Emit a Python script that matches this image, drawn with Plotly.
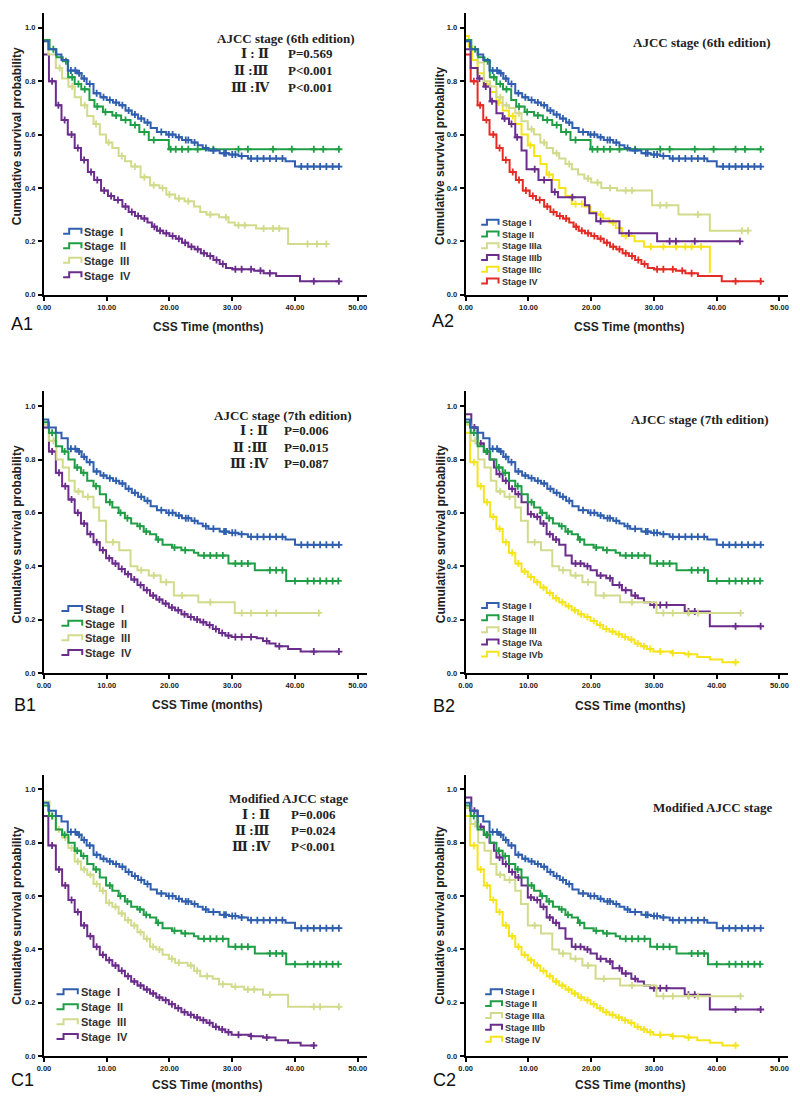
import plotly.graph_objects as go

# ---------------- DATA ----------------
# Each curve: step times (months), survival after each step, end of follow-up, censor times
STAGE_I_T = [0, 0.7, 1.9, 2.8, 3.8, 5.3, 6.0, 6.8, 7.9, 9.0, 10.0, 11.0, 12.0, 13.0, 14.0, 15.0, 16.0,
             17.0, 18.0, 19.5, 21.0, 22.0, 23.5, 24.5, 25.3, 26.2, 28.0, 29.5, 31.0, 32.5, 38.5, 40.0]
STAGE_I_S = [0.95, 0.92, 0.90, 0.88, 0.84, 0.83, 0.81, 0.79, 0.755, 0.74, 0.73, 0.72, 0.71, 0.69, 0.675,
             0.66, 0.645, 0.625, 0.61, 0.60, 0.59, 0.58, 0.57, 0.56, 0.55, 0.54, 0.53, 0.525, 0.52, 0.51,
             0.50, 0.48]
STAGE_I_END = 47.2
STAGE_I_CENS = [4.3, 5.0, 5.6, 6.4, 7.3, 8.4, 9.5, 10.5, 11.5, 12.5, 13.5, 14.5, 15.5, 16.5, 18.7, 19.9,
                20.5, 21.5, 22.6, 23.0, 24.0, 25.8, 27.0, 28.7, 29.0, 30.0, 30.5, 31.5, 33.0, 34.0, 35.0,
                36.0, 37.0, 38.0, 41.0, 42.0, 43.0, 44.0, 45.0, 46.0, 47.0]

II6_T = [0, 0.9, 2.0, 3.0, 3.85, 4.9, 5.95, 7.25, 8.05, 9.4, 10.9, 12.3, 13.8, 15.2, 16.7, 19.9]
II6_S = [0.955, 0.92, 0.89, 0.875, 0.815, 0.79, 0.77, 0.73, 0.705, 0.685, 0.672, 0.655, 0.636, 0.61,
         0.58, 0.545]
II6_END = 47.2
II6_CENS = [1.5, 3.5, 4.5, 5.5, 6.5, 8.5, 9.8, 11.5, 13.0, 14.5, 16.0, 17.5, 20.2, 21.0, 22.0, 23.0,
            24.5, 27.0, 31.0, 32.5, 36.5, 39.5, 43.0, 44.5, 47.0]

III6_T = [0, 0.7, 1.9, 2.9, 3.9, 4.9, 5.9, 6.9, 7.9, 8.9, 9.9, 10.9, 11.9, 12.9, 13.9, 15.4, 16.9,
          18.4, 19.5, 20.9, 22.4, 23.9, 24.9, 25.9, 27.9, 29.4, 30.4, 33.8, 38.9]
III6_S = [0.95, 0.90, 0.85, 0.81, 0.78, 0.74, 0.71, 0.67, 0.64, 0.60, 0.57, 0.55, 0.52, 0.50, 0.48,
          0.44, 0.41, 0.40, 0.375, 0.36, 0.35, 0.33, 0.31, 0.30, 0.29, 0.27, 0.26, 0.248, 0.19]
III6_END = 45.0
III6_CENS = [2.5, 4.5, 6.5, 8.3, 10.3, 12.4, 14.5, 16.0, 17.5, 18.9, 20.0, 21.5, 23.0, 26.5, 29.0,
             31.0, 32.0, 35.0, 36.5, 37.5, 42.0, 43.5, 45.0]

IV6_T = [0, 0.8, 1.9, 2.8, 3.8, 4.9, 5.9, 7.0, 8.0, 9.1, 10.2, 11.2, 12.5, 13.5, 14.5, 15.5, 16.5,
         17.2, 18.0, 19.0, 20.0, 21.0, 22.0, 23.0, 24.0, 25.0, 26.0, 27.0, 28.0, 29.0, 30.0, 33.5,
         35.0, 37.0, 40.8]
IV6_S = [0.90, 0.80, 0.71, 0.655, 0.60, 0.55, 0.505, 0.46, 0.43, 0.39, 0.37, 0.355, 0.33, 0.31, 0.295,
         0.285, 0.27, 0.255, 0.24, 0.23, 0.22, 0.21, 0.195, 0.18, 0.17, 0.155, 0.145, 0.13, 0.115, 0.10,
         0.095, 0.09, 0.08, 0.07, 0.05]
IV6_END = 47.2
IV6_CENS = [1.3, 2.3, 3.3, 4.4, 5.4, 6.4, 7.5, 8.5, 9.6, 10.7, 11.8, 13.0, 14.0, 15.0, 16.0, 17.6,
            18.5, 19.5, 20.5, 21.5, 22.5, 23.5, 24.5, 25.5, 26.5, 27.5, 28.5, 30.5, 31.5, 33.0, 34.5,
            36.0, 43.0, 47.0]

IIIA6_T = [0, 0.8, 1.9, 2.9, 3.9, 4.9, 5.9, 6.9, 7.9, 8.9, 9.9, 10.9, 11.9, 12.9, 13.9, 14.9, 15.9,
           16.9, 17.9, 18.9, 20.0, 21.6, 24.1, 29.7, 33.9, 38.9]
IIIA6_S = [0.95, 0.92, 0.87, 0.80, 0.78, 0.74, 0.71, 0.70, 0.68, 0.65, 0.62, 0.60, 0.57, 0.55, 0.53,
           0.51, 0.49, 0.47, 0.45, 0.435, 0.42, 0.40, 0.39, 0.335, 0.30, 0.24]
IIIA6_END = 45.0
IIIA6_CENS = [5.5, 6.5, 8.5, 10.5, 12.5, 14.5, 16.5, 19.5, 21.0, 23.0, 25.5, 26.5, 31.0, 32.0, 37.0,
              44.0, 45.0]

IIIB6_T = [0, 0.8, 1.9, 2.9, 3.9, 4.9, 5.9, 6.9, 7.9, 8.9, 9.7, 11.6, 13.7, 14.7, 19.0, 19.7, 20.8,
           24.5, 30.5]
IIIB6_S = [0.92, 0.85, 0.81, 0.78, 0.725, 0.68, 0.66, 0.64, 0.59, 0.54, 0.47, 0.43, 0.385, 0.365,
           0.335, 0.305, 0.275, 0.23, 0.20]
IIIB6_END = 43.7
IIIB6_CENS = [2.2, 3.2, 4.2, 6.2, 7.3, 8.2, 11.0, 12.5, 14.2, 17.0, 21.5, 26.0, 32.5, 33.5, 36.5, 43.7]

IIIC6_T = [0, 0.5, 1.0, 1.9, 2.9, 3.9, 4.9, 5.9, 6.9, 7.9, 8.9, 9.9, 10.9, 11.9, 12.9, 13.9, 14.9,
           15.9, 16.9, 18.9, 19.9, 20.9, 21.9, 22.9, 23.9, 24.9, 26.9, 28.4, 38.9]
IIIC6_S = [0.97, 0.93, 0.88, 0.83, 0.79, 0.76, 0.72, 0.69, 0.67, 0.64, 0.60, 0.56, 0.52, 0.49, 0.45,
           0.43, 0.40, 0.37, 0.34, 0.33, 0.31, 0.30, 0.285, 0.27, 0.25, 0.22, 0.20, 0.18, 0.085]
IIIC6_END = 39.0
IIIC6_CENS = [3.3, 5.3, 7.5, 10.3, 13.3, 17.5, 18.5, 21.5, 23.5, 25.5, 29.5, 31.5, 33.5, 35.0, 36.0,
              37.5]

II7_T = [0, 0.8, 1.9, 2.9, 3.9, 4.9, 5.9, 6.9, 7.9, 8.9, 9.9, 10.9, 11.9, 12.9, 13.9, 14.9, 15.9,
         16.9, 17.9, 18.9, 20.4, 21.9, 23.9, 24.6, 29.4, 33.6, 38.6]
II7_S = [0.94, 0.90, 0.85, 0.83, 0.80, 0.77, 0.75, 0.72, 0.70, 0.67, 0.64, 0.62, 0.60, 0.58, 0.56,
         0.55, 0.53, 0.52, 0.50, 0.48, 0.47, 0.46, 0.45, 0.44, 0.41, 0.385, 0.345]
II7_END = 46.9
II7_CENS = [1.3, 3.3, 5.3, 6.3, 8.3, 10.5, 12.2, 13.3, 15.3, 16.3, 18.2, 20.8, 22.5, 25.5, 26.5, 27.5,
            28.5, 30.5, 31.5, 32.5, 36.0, 37.0, 38.0, 40.0, 42.0, 43.0, 44.0, 45.0, 46.0, 46.9]

III7_T = [0, 0.8, 2.0, 3.0, 4.0, 4.9, 6.2, 7.9, 8.8, 9.9, 12.0, 13.8, 14.9, 16.7, 18.6, 20.7, 24.6,
          30.4]
III7_S = [0.93, 0.87, 0.80, 0.77, 0.72, 0.68, 0.66, 0.62, 0.57, 0.49, 0.46, 0.40, 0.385, 0.365, 0.34,
          0.29, 0.265, 0.225]
III7_END = 43.8
III7_CENS = [1.5, 5.5, 7.0, 11.0, 15.5, 17.5, 19.5, 22.0, 26.5, 31.5, 33.0, 35.5, 37.0, 43.8]

IV7_T = [0, 0.8, 1.9, 2.9, 3.9, 4.9, 5.9, 6.9, 7.9, 8.9, 9.9, 10.9, 11.9, 12.9, 13.9, 14.9, 15.9,
         16.9, 17.9, 18.9, 19.9, 20.9, 21.9, 22.9, 23.9, 24.9, 25.9, 26.9, 27.9, 28.9, 29.9, 33.9,
         34.9, 35.9, 36.9, 38.9, 40.9]
IV7_S = [0.92, 0.83, 0.75, 0.70, 0.65, 0.60, 0.56, 0.52, 0.49, 0.46, 0.43, 0.41, 0.39, 0.37, 0.35,
         0.33, 0.31, 0.29, 0.275, 0.26, 0.245, 0.235, 0.22, 0.21, 0.20, 0.19, 0.18, 0.165, 0.15, 0.14,
         0.135, 0.13, 0.12, 0.11, 0.10, 0.09, 0.08]
IV7_END = 47.0
IV7_CENS = [1.3, 2.4, 3.4, 4.4, 5.4, 6.4, 7.4, 8.4, 9.4, 10.4, 11.4, 12.4, 13.4, 14.4, 15.4, 16.4,
            17.4, 18.4, 19.4, 20.4, 21.4, 22.4, 23.4, 24.4, 25.4, 26.4, 27.4, 28.4, 29.4, 30.5, 31.5,
            33.0, 35.5, 37.5, 43.0, 47.0]

IVA7_T = [0, 0.9, 1.9, 2.9, 3.8, 4.5, 4.9, 5.9, 6.9, 7.9, 8.9, 9.9, 10.9, 11.9, 12.9, 13.9, 14.9,
          15.9, 16.9, 18.9, 19.9, 20.9, 22.4, 23.4, 24.9, 26.4, 27.4, 28.4, 29.4, 34.9, 38.9]
IVA7_S = [0.97, 0.92, 0.86, 0.83, 0.80, 0.77, 0.745, 0.72, 0.69, 0.67, 0.64, 0.595, 0.585, 0.56, 0.52,
          0.50, 0.48, 0.44, 0.41, 0.40, 0.385, 0.365, 0.355, 0.33, 0.31, 0.29, 0.28, 0.265, 0.255,
          0.23, 0.175]
IVA7_END = 47.0
IVA7_CENS = [1.4, 2.4, 3.4, 5.4, 6.4, 7.4, 8.4, 10.4, 11.4, 12.4, 13.4, 14.4, 17.5, 18.3, 19.4, 21.5,
             23.0, 24.5, 25.5, 27.0, 30.0, 31.0, 32.0, 35.5, 36.5, 43.0, 47.0]

IVB7_T = [0, 0.7, 1.9, 2.9, 3.9, 4.9, 5.9, 6.9, 7.9, 8.9, 9.9, 10.9, 11.9, 12.9, 13.9, 14.9, 15.9,
          16.9, 17.9, 18.9, 19.9, 20.9, 21.9, 22.9, 23.9, 24.9, 25.9, 26.9, 27.9, 28.9, 29.9, 32.9,
          34.9, 36.9, 38.9, 40.9]
IVB7_S = [0.90, 0.79, 0.70, 0.64, 0.585, 0.54, 0.49, 0.45, 0.41, 0.38, 0.36, 0.34, 0.32, 0.30, 0.28,
          0.265, 0.25, 0.235, 0.22, 0.21, 0.195, 0.18, 0.165, 0.155, 0.145, 0.135, 0.125, 0.11, 0.10,
          0.09, 0.08, 0.075, 0.07, 0.06, 0.05, 0.04]
IVB7_END = 43.2
IVB7_CENS = [1.3, 2.4, 3.4, 4.4, 5.4, 6.4, 7.4, 8.4, 9.4, 10.4, 11.4, 12.4, 13.4, 14.4, 15.4, 16.4,
             17.4, 18.4, 19.4, 20.4, 21.4, 22.4, 23.4, 24.4, 25.4, 26.4, 27.4, 28.4, 29.4, 31.0, 33.0,
             35.5, 43.0]

IIIMOD_T = [0, 0.9, 1.9, 2.9, 3.9, 4.9, 5.9, 6.9, 7.9, 8.9, 9.9, 10.9, 11.9, 12.9, 13.9, 14.9, 15.9,
            16.9, 17.9, 18.9, 19.9, 20.9, 22.9, 23.9, 24.9, 26.9, 27.9, 29.9, 31.9, 34.9, 38.9]
IIIMOD_S = [0.955, 0.90, 0.85, 0.82, 0.78, 0.73, 0.70, 0.68, 0.645, 0.62, 0.575, 0.56, 0.535, 0.51,
            0.49, 0.465, 0.44, 0.41, 0.40, 0.38, 0.365, 0.35, 0.34, 0.32, 0.30, 0.29, 0.27, 0.26, 0.25,
            0.23, 0.185]
IIIMOD_END = 47.0
IIIMOD_CENS = [1.4, 2.4, 3.4, 4.4, 5.4, 6.4, 7.4, 8.4, 9.4, 10.4, 11.4, 12.4, 13.4, 14.4, 15.4, 16.4,
               17.4, 18.4, 20.4, 21.5, 23.4, 24.4, 26.0, 28.5, 30.5, 32.5, 33.5, 36.0, 43.0, 44.0, 47.0]

X_TICKS = [0, 10, 20, 30, 40, 50]
X_TICK_TEXT = ["0.00", "10.00", "20.00", "30.00", "40.00", "50.00"]
Y_TICKS = [0, 0.2, 0.4, 0.6, 0.8, 1.0]
Y_TICK_TEXT = ["0.0", "0.2", "0.4", "0.6", "0.8", "1.0"]

LEG_A1 = ["Stage\u00a0\u00a0I", "Stage\u00a0\u00a0II", "Stage\u00a0\u00a0III", "Stage\u00a0\u00a0IV"]
LEG_A2 = ["Stage I", "Stage II", "Stage IIIa", "Stage IIIb", "Stage IIIc", "Stage IV"]
LEG_B1 = LEG_A1
LEG_B2 = ["Stage I", "Stage II", "Stage III", "Stage IVa", "Stage IVb"]
LEG_C1 = LEG_A1
LEG_C2 = ["Stage I", "Stage II", "Stage IIIa", "Stage IIIb", "Stage IV"]

P_A1 = ["P=0.569", "P<0.001", "P<0.001"]
P_B1 = ["P=0.006", "P=0.015", "P=0.087"]
P_C1 = ["P=0.006", "P=0.024", "P<0.001"]
PAIRS = ["\u2160 : \u2161", "\u2161 :\u2162", "\u2162 :\u2163"]

# ---------------- STYLE ----------------
BLUE = "#2f5fae"
GREEN = "#1f9e45"
KHAKI = "#d2db8c"
PURPLE = "#6a2d8c"
YELLOW = "#f5e41c"
RED = "#e32c26"

W, H = 800, 1101


def fx(px):
    return px / W


def fy(py):
    return 1 - py / H


def surv_at(T, S, t):
    v = S[0]
    for ti, si in zip(T, S):
        if ti <= t:
            v = si
    return v


curve = {
    "I": (STAGE_I_T, STAGE_I_S, STAGE_I_END, STAGE_I_CENS),
    "II6": (II6_T, II6_S, II6_END, II6_CENS),
    "III6": (III6_T, III6_S, III6_END, III6_CENS),
    "IV6": (IV6_T, IV6_S, IV6_END, IV6_CENS),
    "IIIA6": (IIIA6_T, IIIA6_S, IIIA6_END, IIIA6_CENS),
    "IIIB6": (IIIB6_T, IIIB6_S, IIIB6_END, IIIB6_CENS),
    "IIIC6": (IIIC6_T, IIIC6_S, IIIC6_END, IIIC6_CENS),
    "II7": (II7_T, II7_S, II7_END, II7_CENS),
    "III7": (III7_T, III7_S, III7_END, III7_CENS),
    "IV7": (IV7_T, IV7_S, IV7_END, IV7_CENS),
    "IVA7": (IVA7_T, IVA7_S, IVA7_END, IVA7_CENS),
    "IVB7": (IVB7_T, IVB7_S, IVB7_END, IVB7_CENS),
    "IIIMOD": (IIIMOD_T, IIIMOD_S, IIIMOD_END, IIIMOD_CENS),
}

# panel geometry in pixels: x0 (month 0), y0 (surv 0)
PX_PER_MONTH = 317 / 50
PX_PER_UNIT = 268
XMAX, YMAX = 51.4, 1.055

panels = [
    dict(id="A1", x0=37.3, y0=296, curves=[("I", BLUE), ("II6", GREEN), ("III6", KHAKI), ("IV6", PURPLE)],
         leg=LEG_A1, leg_x=56.7, leg_y=233, leg_dy=14.6, leg_w=18.5, leg_fs=11,
         title="AJCC stage (6th edition)", title_xy=(282, 39), pvals=P_A1, num_r=267, p_l=282,
         rows=[54, 71, 87.5], label=(2, 325), ytitle=(10, 137), xtitle=(203, 328)),
    dict(id="A2", x0=463.3, y0=296,
         curves=[("I", BLUE), ("II6", GREEN), ("IIIA6", KHAKI), ("IIIB6", PURPLE), ("IIIC6", YELLOW), ("IV6", RED)],
         leg=LEG_A2, leg_x=479, leg_y=224, leg_dy=11.8, leg_w=17.5, leg_fs=9,
         title="AJCC stage (6th edition)", title_xy=(702.5, 42.7), pvals=None,
         label=(427, 322), ytitle=(438, 157), xtitle=(628, 328)),
    dict(id="B1", x0=37.3, y0=676, curves=[("I", BLUE), ("II7", GREEN), ("III7", KHAKI), ("IV7", PURPLE)],
         leg=LEG_B1, leg_x=55, leg_y=612, leg_dy=14.7, leg_w=21, leg_fs=11,
         title="AJCC stage (7th edition)", title_xy=(279, 417.3), pvals=P_B1, num_r=266, p_l=278,
         rows=[432.7, 449.3, 466], label=(5, 708), ytitle=(10, 537), xtitle=(202.5, 708)),
    dict(id="B2", x0=463.3, y0=676,
         curves=[("I", BLUE), ("II7", GREEN), ("III7", KHAKI), ("IVA7", PURPLE), ("IVB7", YELLOW)],
         leg=LEG_B2, leg_x=479, leg_y=609, leg_dy=12.2, leg_w=17.5, leg_fs=9,
         title="AJCC stage (7th edition)", title_xy=(700, 421.7), pvals=None,
         label=(428, 709), ytitle=(438, 537), xtitle=(629, 709)),
    dict(id="C1", x0=37.3, y0=1061, curves=[("I", BLUE), ("II7", GREEN), ("IIIMOD", KHAKI), ("IVB7", PURPLE)],
         leg=LEG_C1, leg_x=50, leg_y=997, leg_dy=15, leg_w=21.5, leg_fs=11,
         title="Modified AJCC stage", title_xy=(284.5, 801.7), pvals=P_C1, num_r=268, p_l=285,
         rows=[818.3, 834.3, 850.7], label=(2, 1085), ytitle=(10, 920), xtitle=(202, 1090)),
    dict(id="C2", x0=463.3, y0=1061,
         curves=[("I", BLUE), ("II7", GREEN), ("III7", KHAKI), ("IVA7", PURPLE), ("IVB7", YELLOW)],
         leg=LEG_C2, leg_x=483, leg_y=997, leg_dy=11.9, leg_w=17, leg_fs=9,
         title="Modified AJCC stage", title_xy=(712.5, 810.7), pvals=None,
         label=(428, 1085), ytitle=(437, 920), xtitle=(629, 1090)),
]

fig = go.Figure()
annotations = []
shapes = []
layout = {}

SANS = "Arial, Liberation Sans, Helvetica, sans-serif"
SERIF = "Times New Roman, Liberation Serif, DejaVu Serif, serif"

for i, p in enumerate(panels):
    n = "" if i == 0 else str(i + 1)
    xa, ya = "x" + n, "y" + n
    x0, y0 = p["x0"], p["y0"]
    x1 = x0 + XMAX * PX_PER_MONTH
    y1 = y0 - YMAX * PX_PER_UNIT
    layout["xaxis" + n] = dict(
        domain=[fx(x0), fx(x1)], anchor=ya, range=[0, XMAX], tickvals=X_TICKS, ticktext=X_TICK_TEXT,
        showline=True, linecolor="black", linewidth=2, ticks="outside", ticklen=4, tickwidth=1.5,
        tickcolor="black", showgrid=False, zeroline=False,
        tickfont=dict(family=SANS, size=7.5, color="#222", weight="bold"), fixedrange=True)
    layout["yaxis" + n] = dict(
        domain=[fy(y0), fy(y1)], anchor=xa, range=[0, YMAX], tickvals=Y_TICKS, ticktext=Y_TICK_TEXT,
        showline=True, linecolor="black", linewidth=2, ticks="outside", ticklen=4, tickwidth=1.5,
        tickcolor="black", showgrid=False, zeroline=False, ticklabelstandoff=1,
        tickfont=dict(family=SANS, size=7.5, color="#222", weight="bold"), fixedrange=True)

    # curves: draw in reverse so Stage I sits on top like the reference
    for key, col in reversed(p["curves"]):
        T, S, end, cens = curve[key]
        xs = list(T) + [end]
        ys = list(S) + [S[-1]]
        fig.add_trace(go.Scatter(x=xs, y=ys, mode="lines", line=dict(color=col, width=2, shape="hv"),
                                 xaxis=xa, yaxis=ya, showlegend=False, hoverinfo="skip"))
        cy = [surv_at(T, S, t) for t in cens]
        fig.add_trace(go.Scatter(x=cens, y=cy, mode="markers",
                                 marker=dict(symbol="cross-thin", size=5, color=col,
                                             line=dict(width=1.8, color=col)),
                                 xaxis=xa, yaxis=ya, showlegend=False, hoverinfo="skip"))

    # legend (step-shaped icons)
    for k, (lab, (key, col)) in enumerate(zip(p["leg"], p["curves"])):
        ry = p["leg_y"] + k * p["leg_dy"]
        lx, w = p["leg_x"], p["leg_w"]
        yb, yt = ry + 1.8, ry - 3.2
        xm = lx + w * 0.33
        path = (f"M {fx(lx)},{fy(yb)} L {fx(xm)},{fy(yb)} L {fx(xm)},{fy(yt)} "
                f"L {fx(lx + w)},{fy(yt)} L {fx(lx + w)},{fy(yb)}")
        shapes.append(dict(type="path", path=path, xref="paper", yref="paper",
                           line=dict(color=col, width=2)))
        annotations.append(dict(text=lab, x=fx(lx + w + 1), y=fy(ry), xref="paper", yref="paper",
                                xanchor="left", yanchor="middle", showarrow=False,
                                font=dict(family=SANS, size=p["leg_fs"], color="#333", weight="bold")))

    # in-plot title and p-values
    tx, ty = p["title_xy"]
    annotations.append(dict(text=p["title"], x=fx(tx), y=fy(ty), xref="paper", yref="paper",
                            xanchor="center", yanchor="middle", showarrow=False,
                            font=dict(family=SERIF, size=13, color="#222", weight="bold")))
    if p["pvals"]:
        for pair, pv, ry in zip(PAIRS, p["pvals"], p["rows"]):
            annotations.append(dict(text=pair, x=fx(p["num_r"]), y=fy(ry), xref="paper", yref="paper",
                                    xanchor="right", yanchor="middle", showarrow=False,
                                    font=dict(family=SERIF, size=13, color="#222", weight="bold")))
            annotations.append(dict(text=pv, x=fx(p["p_l"]), y=fy(ry), xref="paper", yref="paper",
                                    xanchor="left", yanchor="middle", showarrow=False,
                                    font=dict(family=SERIF, size=13, color="#222", weight="bold")))

    # axis titles and panel label
    annotations.append(dict(text="Cumulative survival probability", x=fx(p["ytitle"][0]), y=fy(p["ytitle"][1]),
                            xref="paper", yref="paper", xanchor="center", yanchor="middle", textangle=-90,
                            showarrow=False, font=dict(family=SANS, size=12, color="#222", weight="bold")))
    annotations.append(dict(text="CSS Time (months)", x=fx(p["xtitle"][0]), y=fy(p["xtitle"][1]),
                            xref="paper", yref="paper", xanchor="center", yanchor="middle",
                            showarrow=False, font=dict(family=SANS, size=12, color="#222", weight="bold")))
    annotations.append(dict(text=p["id"], x=fx(p["label"][0]), y=fy(p["label"][1]), xref="paper",
                            yref="paper", xanchor="left", yanchor="middle", showarrow=False,
                            font=dict(family=SANS, size=18, color="#111")))

fig.update_layout(
    width=W, height=H, margin=dict(l=0, r=0, t=0, b=0), autosize=False,
    paper_bgcolor="white", plot_bgcolor="white", showlegend=False,
    annotations=annotations, shapes=shapes, **layout)

fig.write_html("out.html", config={"displayModeBar": False},
               post_script="document.body.style.margin='0px';document.body.style.overflow='hidden';")
